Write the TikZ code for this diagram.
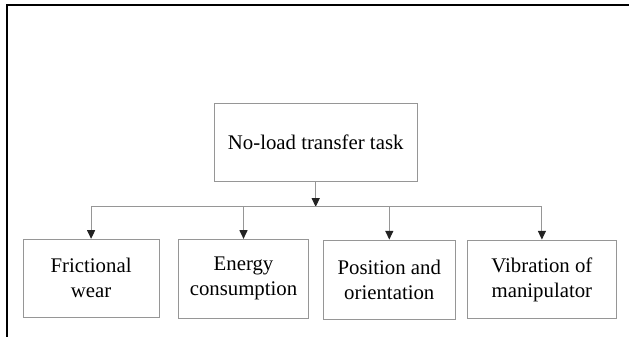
\documentclass[tikz,border=0pt]{standalone}
\usepackage{fontspec}
\setmainfont{Liberation Serif}
\usetikzlibrary{arrows.meta,positioning}
\definecolor{linegray}{RGB}{150,150,150}
\definecolor{headgray}{RGB}{35,35,35}

\begin{document}
\begin{tikzpicture}[x=0.75pt,y=-0.75pt,inner sep=0pt]
\tikzstyle{box}=[rectangle, draw=linegray, line width=0.75pt, align=center, font=\fontsize{15.6}{18.75}\selectfont]
\tikzstyle{connect}=[draw=linegray, line width=0.75pt, -{Triangle[length=6.5pt,width=6pt,color=headgray]}]
\tikzstyle{bus}=[draw=linegray, line width=0.75pt]
\tikzstyle{frame}=[line width=1.5pt]
\useasboundingbox (0,0) rectangle (629,337);
\draw[frame] (629,5) -- (7,5) -- (7,337);
\node[box,minimum width=152pt,minimum height=59pt] (task) at (315.7,142.5) {No-load transfer task};
\node[box,minimum width=101.9pt,minimum height=58.3pt] (wear) at (91.1,278.2) {Frictional\\wear};
\node[box,minimum width=98pt,minimum height=59pt] (energy) at (243.5,278.7) {Energy\\consumption};
\node[box,minimum width=98.6pt,minimum height=59.5pt] (pose) at (389.3,279.7) {Position and\\orientation};
\node[box,minimum width=111.2pt,minimum height=59pt] (vib) at (541.9,279.4) {Vibration of\\manipulator};
\coordinate[below=18.4pt of task] (split);
\path (task) edge[connect] (split);
\path (split -| wear) edge[bus] (split -| vib);
\path (split -| wear) edge[connect] (wear);
\path (split -| energy) edge[connect] (energy);
\path (split -| pose) edge[connect] (pose);
\path (split -| vib) edge[connect] (vib);
\end{tikzpicture}
\end{document}
